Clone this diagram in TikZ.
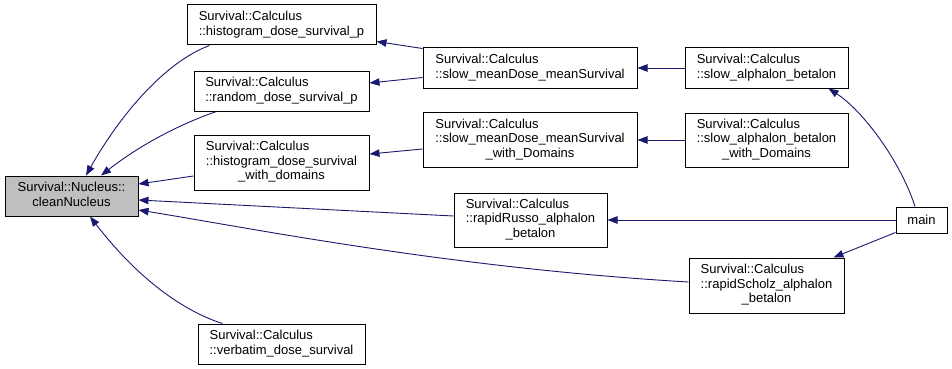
\documentclass[tikz,border=0pt]{standalone}
\usepackage{fontspec}
\setmainfont{Liberation Sans}
\usetikzlibrary{arrows.meta,calc}
\definecolor{edgeblue}{HTML}{191970}
\definecolor{hilite}{HTML}{BFBFBF}
\newcommand{\lbl}[1]{\begin{tabular}{@{}l@{}}#1\end{tabular}}
\newcommand{\ctr}[1]{\multicolumn{1}{@{}c@{}}{#1}}
\tikzset{
  fnbox/.style={draw=black, line width=1pt, fill=white, inner sep=0pt,
    font=\fontsize{13}{14.5}\selectfont},
  edge/.style={draw=edgeblue, line width=0.9pt,
    -{Triangle[length=10pt,width=7.5pt]}},
}
\begin{document}
\begin{tikzpicture}[x=1pt,y=-1pt]
\useasboundingbox[fill=white] (0,0) rectangle (952,369);

% functions
\node[fnbox, fill=hilite, minimum width=133, minimum height=40] (clean) at (71.5,196)
  {\begin{tabular}{@{}c@{}}Survival::Nucleus::\\cleanNucleus\end{tabular}};
\node[fnbox, minimum width=189, minimum height=40] (histp) at (281.5,25)
  {\lbl{Survival::Calculus\\::histogram\_dose\_survival\_p}};
\node[fnbox, minimum width=175, minimum height=40] (randomp) at (281.5,91)
  {\lbl{Survival::Calculus\\::random\_dose\_survival\_p}};
\node[fnbox, minimum width=175, minimum height=55] (histwd) at (281.5,162.5)
  {\lbl{Survival::Calculus\\::histogram\_dose\_survival\\\ctr{\_with\_domains}}};
\node[fnbox, minimum width=167, minimum height=40] (verbatim) at (281.5,344)
  {\lbl{Survival::Calculus\\::verbatim\_dose\_survival}};
\node[fnbox, minimum width=214, minimum height=40] (slowmd) at (530,68)
  {\lbl{Survival::Calculus\\::slow\_meanDose\_meanSurvival}};
\node[fnbox, minimum width=214, minimum height=55] (slowmdwd) at (530,140)
  {\lbl{Survival::Calculus\\::slow\_meanDose\_meanSurvival\\\ctr{\_with\_Domains}}};
\node[fnbox, minimum width=153, minimum height=54] (russo) at (530.5,220)
  {\lbl{Survival::Calculus\\::rapidRusso\_alphalon\\\ctr{\_betalon}}};
\node[fnbox, minimum width=163, minimum height=40] (slowab) at (766.5,68)
  {\lbl{Survival::Calculus\\::slow\_alphalon\_betalon}};
\node[fnbox, minimum width=163, minimum height=54] (slowabwd) at (766.5,140)
  {\lbl{Survival::Calculus\\::slow\_alphalon\_betalon\\\ctr{\_with\_Domains}}};
\node[fnbox, minimum width=155, minimum height=55] (scholz) at (766.5,285.5)
  {\lbl{Survival::Calculus\\::rapidScholz\_alphalon\\\ctr{\_betalon}}};
\node[fnbox, minimum width=51, minimum height=26] (main) at (921.5,220) {main};

% calls
\draw[edge] ($(slowmd.north west)+(0,1)$) -- ($(histp.south east)+(0,-4)$);
\draw[edge] ($(slowmd.south west)+(0,-11)$) -- ($(randomp.east)+(0,-8)$);
\draw[edge] (slowab.west) -- (slowmd.east);
\draw[edge] (slowabwd.west) -- (slowmdwd.east);
\draw[edge] ($(slowmdwd.west)+(0,9)$) -- ($(histwd.east)+(0,-8.5)$);
\draw[edge] ($(main.north)+(-6.5,0)$) .. controls (900,160) and (862,110) .. ($(slowab.south east)+(-20,0)$);
\draw[edge] (main.west) -- (russo.east);
\draw[edge] ($(main.south west)+(0,-1)$) -- ($(scholz.north east)+(-11,0)$);
\draw[edge] ($(histp.south west)+(23,0)$) .. controls (165,62) and (120,115) .. ($(clean.north)+(14.5,0)$);
\draw[edge] ($(randomp.south west)+(23,0)$) .. controls (180,124) and (140,145) .. ($(clean.north)+(29.5,0)$);
\draw[edge] ($(histwd.west)+(0,13.5)$) -- ($(clean.east)+(0,-12)$);
\draw[edge] ($(russo.west)+(0,-4)$) -- ($(clean.east)+(0,4)$);
\draw[edge] ($(scholz.west)+(0,-3.5)$) .. controls (450,268) and (250,228) .. ($(clean.east)+(0,14)$);
\draw[edge] ($(verbatim.north west)+(25,0)$) .. controls (180,310) and (135,275) .. ($(clean.south)+(18.5,0)$);
\end{tikzpicture}
\end{document}
